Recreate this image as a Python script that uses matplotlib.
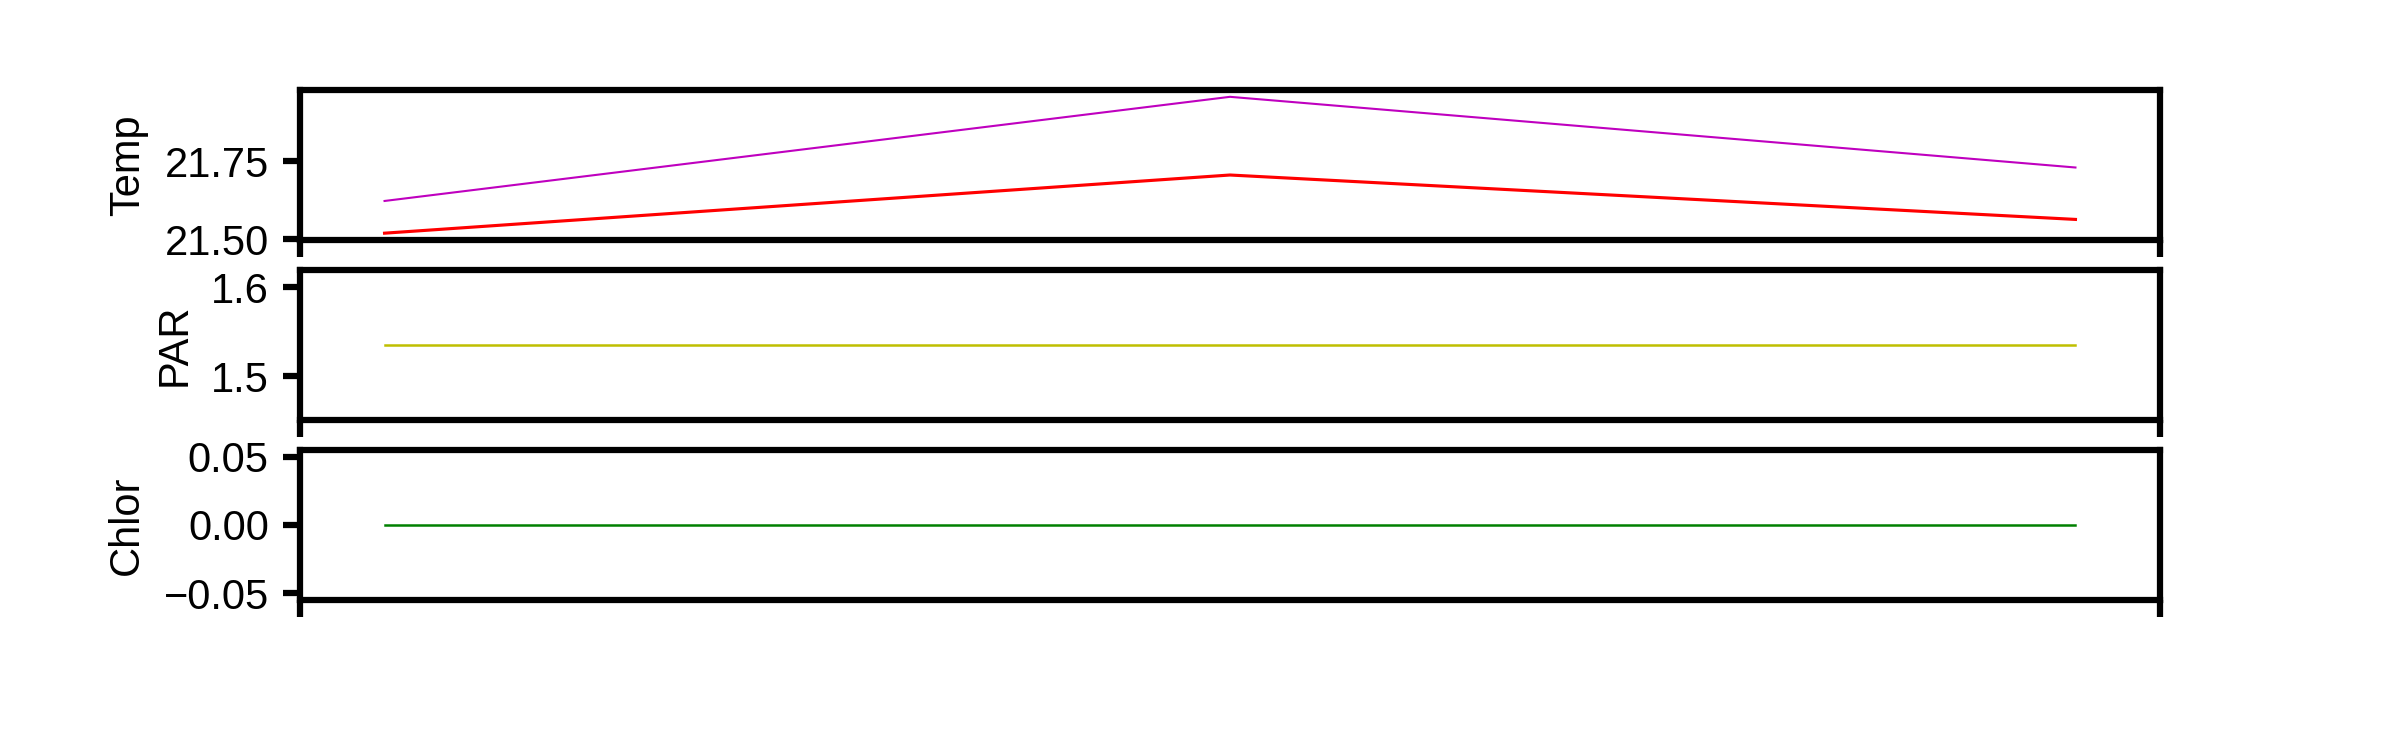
import matplotlib
matplotlib.use("Agg")
from matplotlib import pyplot as plt

plt.rcParams['font.family'] = ['Liberation Sans', 'DejaVu Sans']
plt.rcParams['font.size'] = 10
plt.rcParams['axes.linewidth'] = 1.5

# three sampling points
x_values = [0, 1, 2]

# temperature, two series
temp_a = [21.52, 21.706, 21.564]
temp_b = [21.623, 21.956, 21.730]

# PAR and chlorophyll
par = [1.535, 1.535, 1.535]
chlor = [0.0, 0.0, 0.0]

fig, (ax1, ax2, ax3) = plt.subplots(3, 1, figsize=(8, 2.5), dpi=300, sharex=True)
fig.subplots_adjust(left=0.125, right=0.9, top=0.88, bottom=0.2, hspace=0.2)

ax1.plot(x_values, temp_a, color='r', lw=0.75)
ax1.plot(x_values, temp_b, color='m', lw=0.5)
ax1.set_ylabel('Temp')
ax1.set_yticks([21.50, 21.75])
ax1.set_yticklabels(['21.50', '21.75'])

ax2.plot(x_values, par, color='y', lw=0.6)
ax2.set_ylabel('PAR')
ax2.set_yticks([1.5, 1.6])

ax3.plot(x_values, chlor, color='g', lw=0.6)
ax3.set_ylabel('Chlor')
ax3.set_yticks([-0.05, 0.0, 0.05])
ax3.set_yticklabels(['\u22120.05', '0.00', '0.05'])

lo, hi = ax3.get_xlim()
for ax in (ax1, ax2, ax3):
    ax.tick_params(axis='both', length=4, width=1.5)
    ax.set_xticks([lo, hi])
    ax.tick_params(axis='x', labelbottom=False)
    ax.set_xlim(lo, hi)

fig.savefig('out.png', dpi=300)
